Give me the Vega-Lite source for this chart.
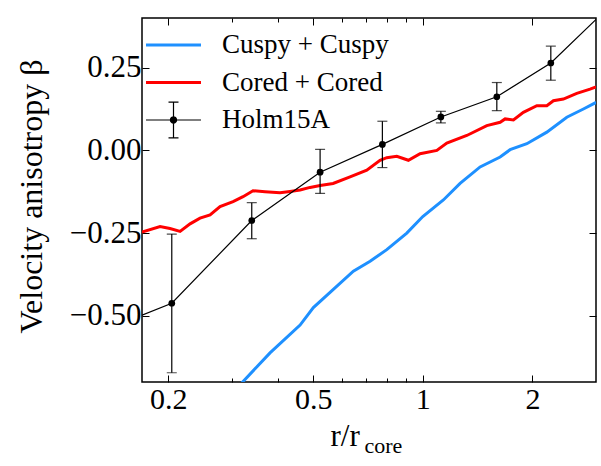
{
  "$schema": "https://vega.github.io/schema/vega-lite/v6.json",
  "width": 454,
  "height": 364,
  "autosize": {"type": "none"},
  "padding": {"left": 142, "top": 18, "right": 5, "bottom": 84},
  "background": "white",
  "config": {
    "view": {"stroke": "black", "strokeWidth": 1.5},
    "font": "Liberation Serif",
    "axis": {
      "domain": false,
      "grid": false,
      "tickColor": "black",
      "tickWidth": 1,
      "labelFont": "Liberation Serif",
      "labelFontSize": 30,
      "labelColor": "black",
      "titleFont": "Liberation Serif",
      "titleFontWeight": "normal",
      "titleColor": "black"
    }
  },
  "datasets": {
    "lines": [
      {"series": "Cuspy + Cuspy", "r": 0.3170, "beta": -0.705},
      {"series": "Cuspy + Cuspy", "r": 0.3806, "beta": -0.612},
      {"series": "Cuspy + Cuspy", "r": 0.4603, "beta": -0.528},
      {"series": "Cuspy + Cuspy", "r": 0.5006, "beta": -0.475},
      {"series": "Cuspy + Cuspy", "r": 0.5681, "beta": -0.420},
      {"series": "Cuspy + Cuspy", "r": 0.6447, "beta": -0.365},
      {"series": "Cuspy + Cuspy", "r": 0.7167, "beta": -0.335},
      {"series": "Cuspy + Cuspy", "r": 0.7964, "beta": -0.300},
      {"series": "Cuspy + Cuspy", "r": 0.9038, "beta": -0.250},
      {"series": "Cuspy + Cuspy", "r": 1.0, "beta": -0.200},
      {"series": "Cuspy + Cuspy", "r": 1.139, "beta": -0.150},
      {"series": "Cuspy + Cuspy", "r": 1.266, "beta": -0.100},
      {"series": "Cuspy + Cuspy", "r": 1.437, "beta": -0.050},
      {"series": "Cuspy + Cuspy", "r": 1.631, "beta": -0.020},
      {"series": "Cuspy + Cuspy", "r": 1.737, "beta": 0.002},
      {"series": "Cuspy + Cuspy", "r": 1.931, "beta": 0.020},
      {"series": "Cuspy + Cuspy", "r": 2.191, "beta": 0.055},
      {"series": "Cuspy + Cuspy", "r": 2.486, "beta": 0.100},
      {"series": "Cuspy + Cuspy", "r": 2.761, "beta": 0.125},
      {"series": "Cuspy + Cuspy", "r": 2.992, "beta": 0.145},
      {"series": "Cored + Cored", "r": 0.1694, "beta": -0.247},
      {"series": "Cored + Cored", "r": 0.1899, "beta": -0.230},
      {"series": "Cored + Cored", "r": 0.2022, "beta": -0.236},
      {"series": "Cored + Cored", "r": 0.2155, "beta": -0.245},
      {"series": "Cored + Cored", "r": 0.2296, "beta": -0.222},
      {"series": "Cored + Cored", "r": 0.2445, "beta": -0.205},
      {"series": "Cored + Cored", "r": 0.2605, "beta": -0.195},
      {"series": "Cored + Cored", "r": 0.2775, "beta": -0.170},
      {"series": "Cored + Cored", "r": 0.3013, "beta": -0.155},
      {"series": "Cored + Cored", "r": 0.3209, "beta": -0.140},
      {"series": "Cored + Cored", "r": 0.3418, "beta": -0.122},
      {"series": "Cored + Cored", "r": 0.3688, "beta": -0.125},
      {"series": "Cored + Cored", "r": 0.4055, "beta": -0.128},
      {"series": "Cored + Cored", "r": 0.4319, "beta": -0.124},
      {"series": "Cored + Cored", "r": 0.4603, "beta": -0.120},
      {"series": "Cored + Cored", "r": 0.4903, "beta": -0.112},
      {"series": "Cored + Cored", "r": 0.5224, "beta": -0.106},
      {"series": "Cored + Cored", "r": 0.5671, "beta": -0.100},
      {"series": "Cored + Cored", "r": 0.6314, "beta": -0.080},
      {"series": "Cored + Cored", "r": 0.7018, "beta": -0.060},
      {"series": "Cored + Cored", "r": 0.7632, "beta": -0.030},
      {"series": "Cored + Cored", "r": 0.7964, "beta": -0.022},
      {"series": "Cored + Cored", "r": 0.8484, "beta": -0.018},
      {"series": "Cored + Cored", "r": 0.9130, "beta": -0.030},
      {"series": "Cored + Cored", "r": 0.9831, "beta": -0.010},
      {"series": "Cored + Cored", "r": 1.093, "beta": 0.000},
      {"series": "Cored + Cored", "r": 1.164, "beta": 0.022},
      {"series": "Cored + Cored", "r": 1.321, "beta": 0.045},
      {"series": "Cored + Cored", "r": 1.499, "beta": 0.075},
      {"series": "Cored + Cored", "r": 1.631, "beta": 0.085},
      {"series": "Cored + Cored", "r": 1.683, "beta": 0.095},
      {"series": "Cored + Cored", "r": 1.774, "beta": 0.092},
      {"series": "Cored + Cored", "r": 1.889, "beta": 0.115},
      {"series": "Cored + Cored", "r": 2.057, "beta": 0.135},
      {"series": "Cored + Cored", "r": 2.191, "beta": 0.135},
      {"series": "Cored + Cored", "r": 2.284, "beta": 0.150},
      {"series": "Cored + Cored", "r": 2.433, "beta": 0.155},
      {"series": "Cored + Cored", "r": 2.648, "beta": 0.172},
      {"series": "Cored + Cored", "r": 2.880, "beta": 0.185},
      {"series": "Cored + Cored", "r": 2.992, "beta": 0.192},
      {"series": "Holm15A", "r": 0.1694, "beta": -0.498},
      {"series": "Holm15A", "r": 0.2045, "beta": -0.462},
      {"series": "Holm15A", "r": 0.3391, "beta": -0.212},
      {"series": "Holm15A", "r": 0.5224, "beta": -0.066},
      {"series": "Holm15A", "r": 0.7745, "beta": 0.018},
      {"series": "Holm15A", "r": 1.121, "beta": 0.101},
      {"series": "Holm15A", "r": 1.597, "beta": 0.162},
      {"series": "Holm15A", "r": 2.247, "beta": 0.264},
      {"series": "Holm15A", "r": 2.992, "beta": 0.396}
    ],
    "holm": [
      {"r": 0.2045, "beta": -0.462, "lo": -0.672, "hi": -0.253},
      {"r": 0.3391, "beta": -0.212, "lo": -0.267, "hi": -0.158},
      {"r": 0.5224, "beta": -0.066, "lo": -0.130, "hi": 0.003},
      {"r": 0.7745, "beta": 0.018, "lo": -0.052, "hi": 0.088},
      {"r": 1.121, "beta": 0.101, "lo": 0.083, "hi": 0.118},
      {"r": 1.597, "beta": 0.162, "lo": 0.120, "hi": 0.205},
      {"r": 2.247, "beta": 0.264, "lo": 0.212, "hi": 0.315}
    ]
  },
  "layer": [
    {
      "mark": {"type": "rule", "color": "#bdbdbd", "strokeDash": [9, 6], "strokeWidth": 1.5},
      "encoding": {"y": {"datum": 0, "type": "quantitative", "axis": null}}
    },
    {
      "mark": {"type": "rule", "color": "#bdbdbd", "strokeDash": [9, 6], "strokeWidth": 1.5},
      "encoding": {"x": {"datum": 1, "type": "quantitative", "axis": null}}
    },
    {
      "data": {"name": "lines"},
      "mark": {"type": "line", "clip": true},
      "encoding": {
        "x": {
          "field": "r", "type": "quantitative",
          "scale": {"type": "log", "domain": [0.1694, 2.99], "nice": false},
          "axis": {
            "orient": "bottom", "values": [0.2, 0.5, 1, 2], "format": "~g",
            "tickSize": -7, "labelPadding": 9,
            "title": "r/r", "titleFontSize": 31, "titleAlign": "left", "titleBaseline": "alphabetic",
            "titleX": 188, "titleY": 63, "titleAnchor": null
          }
        },
        "y": {
          "field": "beta", "type": "quantitative",
          "scale": {"domain": [-0.7, 0.4], "nice": false, "zero": false},
          "axis": {
            "orient": "left", "values": [-0.5, -0.25, 0, 0.25], "format": ".2f",
            "tickSize": -7, "labelPadding": 8, "labelFontSize": 31,
            "title": "Velocity anisotropy β", "titleFontSize": 32, "titleAngle": 270,
            "titleAlign": "center", "titleBaseline": "alphabetic", "titleX": -101, "titleY": 178
          }
        },
        "stroke": {
          "field": "series", "type": "nominal",
          "scale": {"domain": ["Holm15A", "Cored + Cored", "Cuspy + Cuspy"], "range": ["#000000", "#ff0000", "#1e90ff"]},
          "legend": null
        },
        "strokeWidth": {
          "condition": {"test": "datum.series === 'Holm15A'", "value": 1.2},
          "value": 3
        }
      }
    },
    {
      "data": {"name": "holm"},
      "mark": {"type": "rule", "color": "black", "strokeWidth": 1.2},
      "encoding": {
        "x": {
          "field": "r", "type": "quantitative",
          "axis": {
            "orient": "bottom", "values": [0.3, 0.4, 0.6, 0.7, 0.8, 0.9], "labels": false,
            "tickSize": -4,
            "title": "core", "titleFontSize": 22, "titleAlign": "left", "titleBaseline": "alphabetic",
            "titleX": 222, "titleY": 70
          }
        },
        "y": {
          "field": "lo", "type": "quantitative",
          "axis": {"orient": "right", "values": [-0.5, -0.25, 0, 0.25], "labels": false, "tickSize": -7, "title": null}
        },
        "y2": {"field": "hi"}
      }
    },
    {
      "data": {"name": "holm"},
      "mark": {"type": "tick", "orient": "horizontal", "color": "black", "thickness": 1.2, "size": 10},
      "encoding": {
        "x": {
          "field": "r", "type": "quantitative",
          "axis": {"orient": "top", "values": [0.3, 0.4, 0.6, 0.7, 0.8, 0.9], "labels": false, "tickSize": -4, "title": null}
        },
        "y": {"field": "lo", "type": "quantitative", "axis": null}
      }
    },
    {
      "data": {"name": "holm"},
      "mark": {"type": "tick", "orient": "horizontal", "color": "black", "thickness": 1.2, "size": 10},
      "encoding": {
        "x": {
          "field": "r", "type": "quantitative",
          "axis": {"orient": "top", "values": [0.2, 0.5, 1, 2], "labels": false, "tickSize": -7, "title": null}
        },
        "y": {"field": "hi", "type": "quantitative", "axis": null}
      }
    },
    {
      "data": {"name": "holm"},
      "mark": {"type": "point", "filled": true, "size": 45, "color": "black", "opacity": 1},
      "encoding": {
        "x": {"field": "r", "type": "quantitative", "axis": null},
        "y": {"field": "beta", "type": "quantitative", "axis": null}
      }
    },
    {
      "data": {"name": "lines"},
      "mark": {"type": "point", "filled": true, "opacity": 0},
      "encoding": {
        "x": {"field": "r", "type": "quantitative", "axis": null},
        "y": {"field": "beta", "type": "quantitative", "axis": null},
        "color": {
          "field": "series", "type": "nominal",
          "scale": {"domain": ["Cuspy + Cuspy", "Cored + Cored", "Holm15A"], "range": ["#1e90ff", "#ff0000", "#000000"]},
          "legend": {
            "orient": "none", "legendX": 13, "legendY": 8.5, "title": null,
            "labelFont": "Liberation Serif", "labelFontSize": 27, "labelColor": "black", "labelLimit": 0,
            "symbolSize": 1369, "symbolStrokeWidth": 0, "symbolOpacity": 1,
            "labelOffset": 30, "rowPadding": 5.5, "padding": 0
          }
        },
        "shape": {
          "field": "series", "type": "nominal",
          "scale": {
            "domain": ["Cuspy + Cuspy", "Cored + Cored", "Holm15A"],
            "range": [
              "M-1.486,-0.081H1.486V0.081H-1.486Z",
              "M-1.486,-0.081H1.486V0.081H-1.486Z",
              "M-1.486,-0.0324H1.486V0.0324H-1.486ZM-0.0324,-0.962H0.0324V0.962H-0.0324ZM-0.27,-0.994H0.27V-0.93H-0.27ZM-0.27,0.93H0.27V0.994H-0.27ZM-0.2,0A0.2,0.2,0,1,1,0.2,0A0.2,0.2,0,1,1,-0.2,0Z"
            ]
          },
          "legend": {
            "orient": "none", "legendX": 13, "legendY": 8.5, "title": null,
            "labelFont": "Liberation Serif", "labelFontSize": 27, "labelColor": "black", "labelLimit": 0,
            "symbolSize": 1369, "symbolStrokeWidth": 0, "symbolOpacity": 1,
            "labelOffset": 30, "rowPadding": 5.5, "padding": 0
          }
        }
      }
    }
  ],
  "resolve": {"axis": {"x": "independent", "y": "independent"}}
}
